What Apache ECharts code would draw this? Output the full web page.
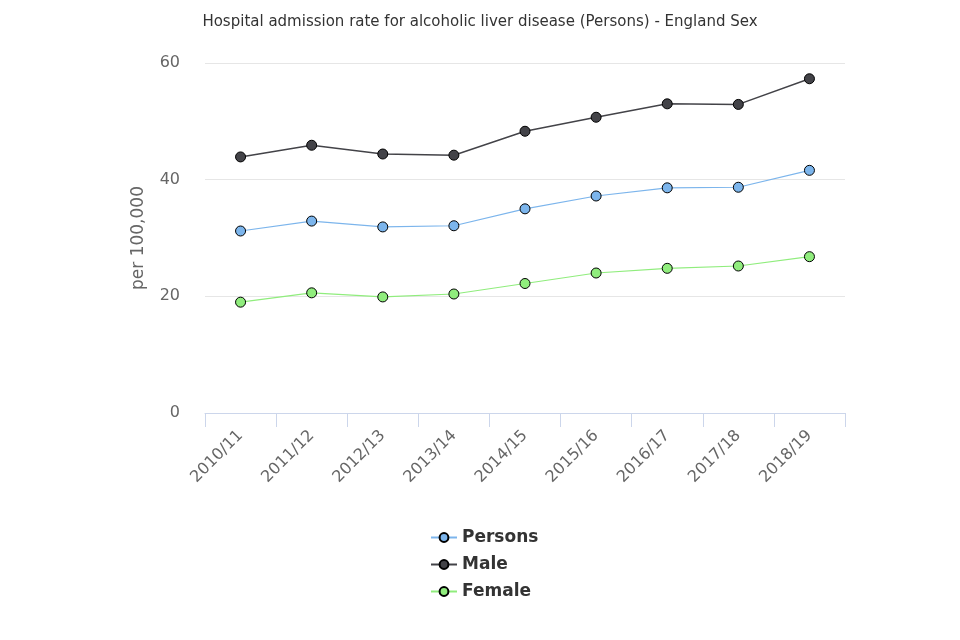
<!DOCTYPE html>
<html>
<head>
<meta charset="utf-8">
<script src="https://cdn.jsdelivr.net/npm/echarts@6/dist/echarts.min.js"></script>
<style>html,body{margin:0;padding:0;background:#fff;}#c{width:960px;height:640px;}</style>
</head>
<body>
<div id="c"></div>
<script>
const categories = ['2010/11','2011/12','2012/13','2013/14','2014/15','2015/16','2016/17','2017/18','2018/19'];
const persons = [31.2, 32.9, 31.9, 32.1, 35.0, 37.2, 38.6, 38.7, 41.6];
const male = [43.9, 45.9, 44.4, 44.2, 48.3, 50.7, 53.0, 52.9, 57.3];
const female = [19.0, 20.6, 19.9, 20.4, 22.2, 24.0, 24.8, 25.2, 26.8];
const yTicks = [0, 20, 40, 60];

const font = '"DejaVu Sans", "Open Sans", sans-serif';
function mk(name, data, color, lw) {
  return {
    name, type: 'line', data,
    symbol: 'circle', symbolSize: 10,
    lineStyle: { color, width: lw },
    itemStyle: { color, borderColor: '#000', borderWidth: 1 },
    emphasis: { disabled: true }
  };
}
const chart = echarts.init(document.getElementById('c'));
chart.setOption({
  animation: false,
  backgroundColor: '#fff',
  title: {
    text: 'Hospital admission rate for alcoholic liver disease (Persons) - England Sex',
    left: 'center', top: 10,
    textStyle: { fontFamily: font, fontSize: 15, fontWeight: 'normal', color: '#333' }
  },
  legend: {
    orient: 'vertical', left: 425, top: 524, itemGap: 10, itemWidth: 26, itemHeight: 11,
    textStyle: { fontFamily: font, fontSize: 17, fontWeight: 'bold', color: '#333' },
    data: ['Persons', 'Male', 'Female']
  },
  grid: { left: 205, right: 115, top: 63, bottom: 227 },
  xAxis: {
    type: 'category', data: categories, boundaryGap: true,
    axisLine: { lineStyle: { color: '#ccd6eb' } },
    axisTick: { show: true, length: 14, lineStyle: { color: '#ccd6eb' } },
    axisLabel: { rotate: 45, margin: 20, fontFamily: font, fontSize: 16, color: '#666' }
  },
  yAxis: {
    type: 'value', min: yTicks[0], max: yTicks[yTicks.length - 1], interval: 20,
    name: 'per 100,000', nameLocation: 'middle', nameGap: 58, nameRotate: 90,
    nameTextStyle: { fontFamily: font, fontSize: 17, color: '#666' },
    axisLine: { show: false }, axisTick: { show: false },
    axisLabel: { margin: 25, fontFamily: font, fontSize: 16, color: '#666' },
    splitLine: { lineStyle: { color: '#e6e6e6' } }
  },
  series: [
    mk('Persons', persons, '#7cb5ec', 1.2),
    mk('Male', male, '#434348', 1.5),
    mk('Female', female, '#90ed7d', 1.2)
  ]
});
</script>
</body>
</html>
